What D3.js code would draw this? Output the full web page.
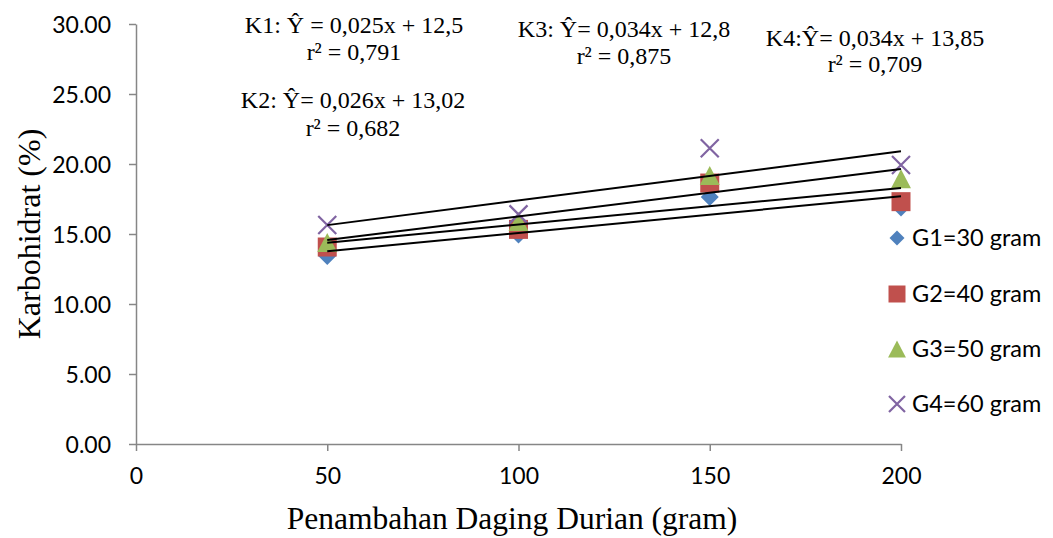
<!DOCTYPE html>
<html>
<head>
<meta charset="utf-8">
<script src="https://cdn.jsdelivr.net/npm/d3@7"></script>
<style>
  html, body { margin: 0; padding: 0; background: #fff; }
  svg { display: block; }
</style>
</head>
<body>
<svg id="chart" width="1053" height="538"></svg>
<script>
// ---- data ----
const xValues = [50, 100, 150, 200];
const seriesNames = ["G1=30 gram", "G2=40 gram", "G3=50 gram", "G4=60 gram"];
const g1 = [13.43, 14.96, 17.64, 16.90];
const g2 = [14.07, 15.33, 18.64, 17.31];
const g3 = [14.40, 15.90, 19.18, 18.94];
const g4 = [15.64, 16.40, 21.12, 19.93];
const yTicks = [0, 5, 10, 15, 20, 25, 30];
const xTicks = [0, 50, 100, 150, 200];
const equations = [
  ["K1: Ŷ = 0,025x + 12,5", "r² = 0,791"],
  ["K2: Ŷ= 0,026x + 13,02", "r² = 0,682"],
  ["K3: Ŷ= 0,034x + 12,8", "r² = 0,875"],
  ["K4:Ŷ= 0,034x + 13,85", "r² = 0,709"]
];
const xTitle = "Penambahan Daging Durian (gram)";
const yTitle = "Karbohidrat (%)";

// ---- styles ----
const colors = ["#4F81BD", "#C0504D", "#9BBB59", "#8064A2"];
const shapes = ["diamond", "square", "triangle", "cross"];
const series = [g1, g2, g3, g4];

const svg = d3.select("#chart");
const x = d3.scaleLinear().domain([0, 200]).range([136, 901]);
const y = d3.scaleLinear().domain([0, 30]).range([444, 24]);

const axisColor = "#868686";
const sansFont = "Lato, 'Open Sans', sans-serif";
const serifFont = "'Liberation Serif', 'Times New Roman', serif";

// axes
const yAxis = svg.append("g").attr("transform", `translate(${x(0)},0)`)
  .call(d3.axisLeft(y).tickValues(yTicks).tickSize(7).tickSizeOuter(0).tickFormat(d3.format(".2f")));
const xAxis = svg.append("g").attr("transform", `translate(0,${y(0)})`)
  .call(d3.axisBottom(x).tickValues(xTicks).tickSize(7).tickSizeOuter(0).tickFormat(d3.format("d")));
[yAxis, xAxis].forEach(a => {
  a.select(".domain").attr("stroke", axisColor).attr("stroke-width", 1.5);
  a.selectAll(".tick line").attr("stroke", axisColor).attr("stroke-width", 1.5);
  a.selectAll(".tick text").attr("fill", "#000").style("font-family", sansFont).style("font-size", "23px");
});
yAxis.selectAll(".tick text").attr("x", -25).attr("dy", "0.36em");
xAxis.selectAll(".tick text").attr("y", 24).attr("dy", "0.71em");

// marker path generator
function markerPath(shape, s) {
  const p = d3.path();
  const h = s * 0.5;
  if (shape === "diamond") {
    p.moveTo(0, -h); p.lineTo(h, 0); p.lineTo(0, h); p.lineTo(-h, 0); p.closePath();
  } else if (shape === "square") {
    p.rect(-h, -h, 2 * h, 2 * h);
  } else if (shape === "triangle") {
    p.moveTo(0, -h); p.lineTo(h * 1.05, h); p.lineTo(-h * 1.05, h); p.closePath();
  } else {
    p.moveTo(-h, -h); p.lineTo(h, h); p.moveTo(h, -h); p.lineTo(-h, h);
  }
  return p.toString();
}
const plotSizes = [18, 19, 19, 18];
const legendSizes = [15, 17, 17, 16];

function drawMarker(g, i, size) {
  const shape = shapes[i];
  const path = g.append("path").attr("d", markerPath(shape, size));
  if (shape === "cross") path.attr("fill", "none").attr("stroke", colors[i]).attr("stroke-width", 2.2);
  else path.attr("fill", colors[i]);
}

// points
series.forEach((vals, i) => {
  const g = svg.append("g");
  vals.forEach((v, j) => {
    const m = g.append("g").attr("transform", `translate(${x(xValues[j])},${y(v)})`);
    drawMarker(m, i, plotSizes[i]);
  });
});

// trend lines (least squares from data)
function fit(vals) {
  const mx = d3.mean(xValues), my = d3.mean(vals);
  const sxy = d3.sum(xValues, (xv, k) => (xv - mx) * (vals[k] - my));
  const sxx = d3.sum(xValues, xv => (xv - mx) * (xv - mx));
  const b = sxy / sxx;
  return { b, a: my - b * mx };
}
const line = d3.line().x(d => x(d[0])).y(d => y(d[1]));
series.forEach(vals => {
  const f = fit(vals);
  const x0 = d3.min(xValues), x1 = d3.max(xValues);
  svg.append("path")
    .attr("d", line([[x0, f.a + f.b * x0], [x1, f.a + f.b * x1]]))
    .attr("stroke", "#000").attr("stroke-width", 2).attr("fill", "none");
});

// legend
const legendY = [238, 294, 349, 404];
seriesNames.forEach((name, i) => {
  const g = svg.append("g").attr("transform", `translate(897,${legendY[i]})`);
  drawMarker(g, i, legendSizes[i]);
  g.append("text").attr("x", 15).attr("dy", "0.36em")
    .style("font-family", sansFont).style("font-size", "23.5px").text(name);
});

// equation annotations
const eqPos = [[354, 33, 60], [353, 108, 136], [624, 37, 64], [875, 46, 72]];
equations.forEach((eq, i) => {
  const [cx, y1, y2] = eqPos[i];
  const t = svg.append("g").style("font-family", serifFont).style("font-size", "24px").attr("text-anchor", "middle");
  t.append("text").attr("x", cx).attr("y", y1).text(eq[0]);
  t.append("text").attr("x", cx).attr("y", y2).text(eq[1]);
});

// axis titles
svg.append("text").attr("x", 512).attr("y", 529).attr("text-anchor", "middle")
  .style("font-family", serifFont).style("font-size", "31.5px").text(xTitle);
svg.append("text").attr("transform", "translate(40,234) rotate(-90)").attr("text-anchor", "middle")
  .style("font-family", serifFont).style("font-size", "32px").text(yTitle);
</script>
</body>
</html>
